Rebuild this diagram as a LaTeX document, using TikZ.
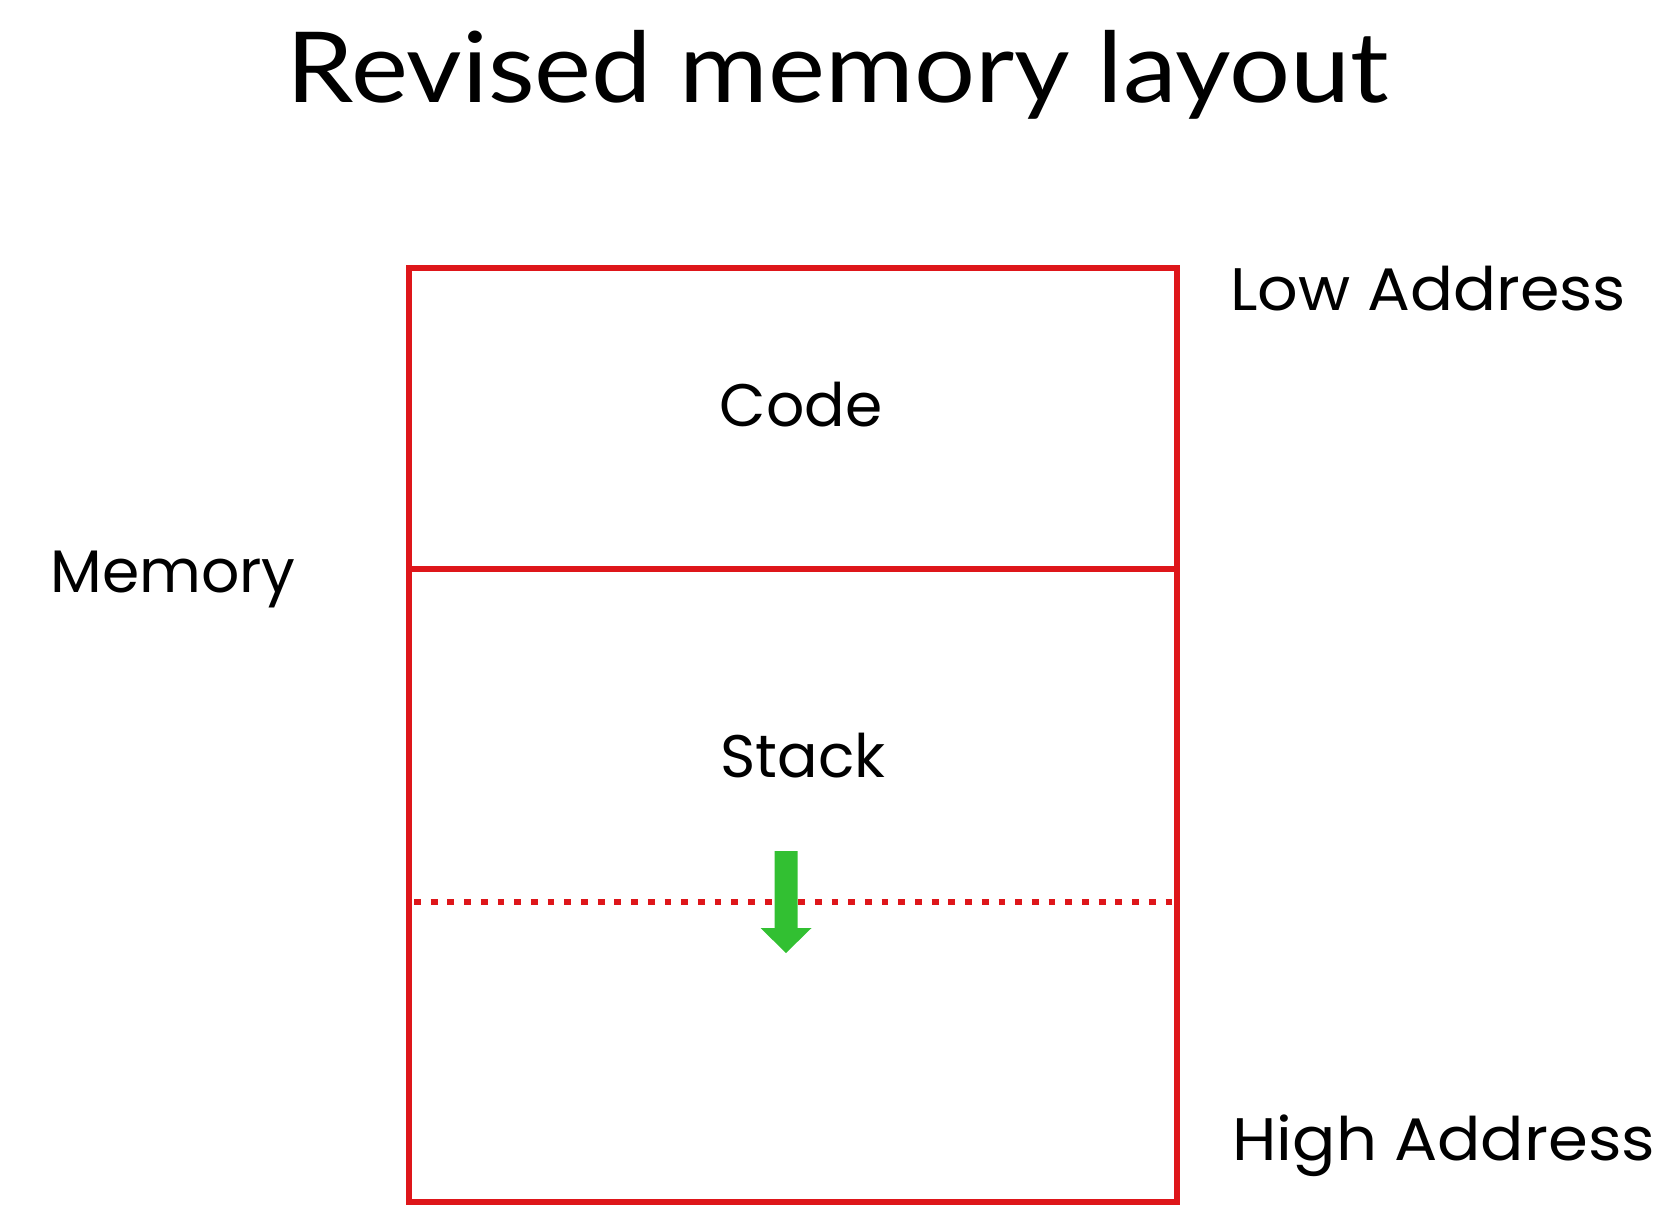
\documentclass[tikz,border=0pt]{standalone}
\usepackage{fontspec}
\setmainfont{Lato}
\newfontfamily\handfont{Poppins}
\definecolor{boxred}{RGB}{222,22,26}
\definecolor{arrgreen}{RGB}{50,192,50}
\begin{document}
\begin{tikzpicture}[x=0.5pt,y=-0.5pt,
  region/.style={draw=boxred,line width=3pt,minimum width=384pt,inner sep=0pt},
  hand/.style={font=\handfont\fontsize{30}{36}\selectfont,anchor=base,inner sep=0pt}]
\useasboundingbox (0,0) rectangle (1658,1214);
\node[anchor=base,inner sep=0pt,font=\fontsize{49}{58}\selectfont] (title) at (838,103) {\scalebox{1.1}[1]{Revised memory layout}};
\node[region,minimum height=150.75pt] (code) at (793,418.25) {};
\node[region,minimum height=316.5pt] (stack) at (793,885.5) {};
\node[hand] (codelbl) at (801,426) {Code};
\node[hand] (stacklbl) at (803,777) {Stack};
\node[hand,anchor=base west] (mem) at (50,592) {Memory};
\node[hand,anchor=base west] (low) at (1230,310) {\scalebox{1.06}[1]{Low Address}};
\node[hand,anchor=base west] (high) at (1232,1160) {\scalebox{1.07}[1]{High Address}};
\coordinate (dl) at (414,902);
\coordinate (dr) at (1174,902);
\draw[boxred,line width=3.4pt,dash pattern=on 3.4pt off 4.95pt] (dl) -- (dr);
\fill[arrgreen] (774.5,851) -- (797.5,851) -- (797.5,928) -- (811.5,928) -- (786,953) -- (760.5,928) -- (774.5,928) -- cycle;
\end{tikzpicture}
\end{document}
